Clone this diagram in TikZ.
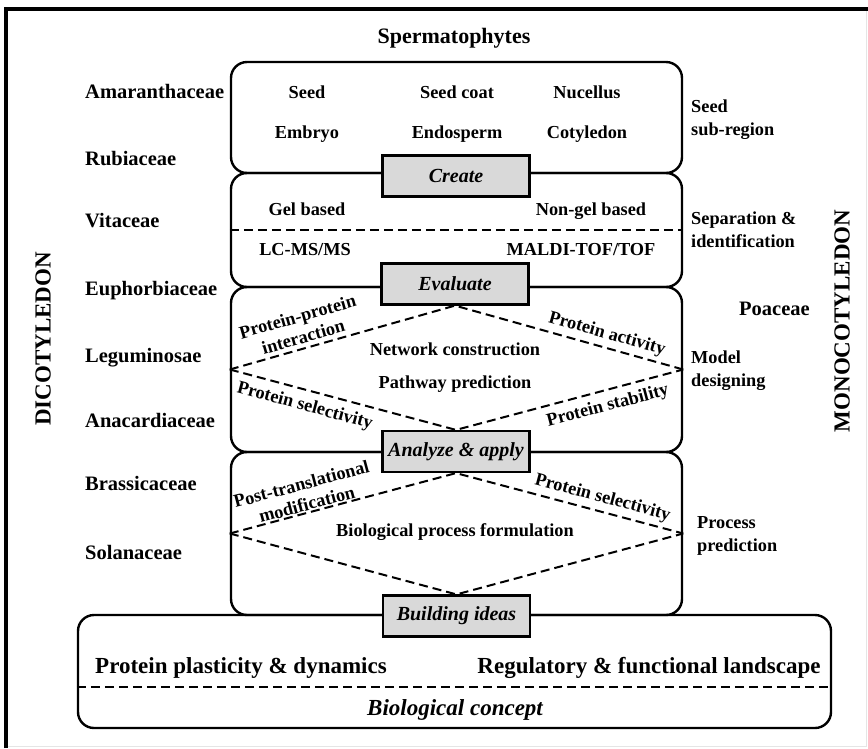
\documentclass[tikz,border=0pt]{standalone}
\usepackage{fontspec}
\setmainfont{Liberation Serif}
\usetikzlibrary{positioning}

\tikzset{
  panel/.style={draw, line width=2.4pt, rounded corners=16pt, minimum width=451pt},
  tag/.style={draw, fill=black!15, line width=2.2pt, minimum width=147pt,
    minimum height=41pt, inner sep=0pt, font=\fontsize{20}{24}\selectfont\bfseries\itshape},
  family/.style={anchor=west, inner sep=0pt, text height=0.7em, text depth=0.2em,
    font=\fontsize{20.5}{24}\selectfont\bfseries},
  item/.style={inner sep=0pt, text height=0.7em, text depth=0.2em,
    font=\fontsize{18.3}{23}\selectfont\bfseries},
  sidetext/.style={anchor=west, align=left, inner sep=0pt,
    font=\fontsize{18.3}{23}\selectfont\bfseries},
  edgetext/.style={sloped, align=center, inner sep=4pt,
    font=\fontsize{18.3}{21}\selectfont\bfseries},
  link/.style={line width=2pt, dash pattern=on 9pt off 5pt},
  bigtext/.style={font=\fontsize{23}{26}\selectfont\bfseries},
}

\begin{document}
\begin{tikzpicture}[x=1pt, y=-1pt]
	\useasboundingbox (0,0) rectangle (868,748);
	% frame
	\draw[line width=4pt] (6,748) -- (6,9) -- (868,9);
	\draw[black!10, line width=1pt] (866.5,11) -- (866.5,746.5) -- (8,746.5);

	\node[font=\fontsize{22}{26}\selectfont\bfseries] (title) at (454,38) {Spermatophytes};

	% stacked panels
	\node[panel, minimum height=111pt] (seedbox) at (456.5,117.5) {};
	\node[panel, minimum height=114pt] (sepbox) at (456.5,230) {};
	\node[panel, minimum height=165pt] (modelbox) at (456.5,369.5) {};
	\node[panel, minimum height=163pt] (procbox) at (456.5,533.5) {};
	\node[panel, minimum width=753pt, minimum height=113pt] (conceptbox) at (454.5,671.5) {};

	\node[tag] (create) at (456,176) {Create};
	\node[tag] (evaluate) at (455,284) {Evaluate};
	\node[tag] (analyze) at (456,451.5) {Analyze \& apply};
	\node[tag] (building) at (456.5,616) {Building ideas};

	\foreach \txt/\x/\y [count=\i] in {Seed/307/96, Seed coat/457/96, Nucellus/587/96,
			Embryo/307/136, Endosperm/457/136, Cotyledon/587/136,
			Gel based/307/213, Non-gel based/591/213,
			{LC-MS/MS}/305/253, {MALDI-TOF/TOF}/581/253} {
			\node[item] (item\i) at (\x,\y) {\txt};
		}

	\draw[link] (sepbox.west) -- (sepbox.east);

	% model designing
	\draw[link] (modelbox.west)
		-- node[edgetext, above, pos=0.34] {Protein-protein\\interaction} (evaluate.south)
		-- node[edgetext, above, pos=0.65] {Protein activity} (modelbox.east);
	\draw[link] (modelbox.west)
		-- node[edgetext, below, pos=0.35, inner sep=7pt] {Protein selectivity} (analyze.north)
		-- node[edgetext, below, pos=0.65, inner sep=7pt] {Protein stability} (modelbox.east);
	\node[item] (network) at (455,353) {Network construction};
	\node[item] (pathway) at (455,386) {Pathway prediction};

	% process prediction
	\draw[link] (procbox.west)
		-- node[edgetext, above, pos=0.35, inner sep=1pt] {Post-translational\\modification} (analyze.south)
		-- node[edgetext, above, pos=0.63] {Protein selectivity} (procbox.east);
	\draw[link] (procbox.west) -- (building.north) -- (procbox.east);
	\node[item] (formulation) at (455,534) {Biological process formulation};

	% biological concept
	\coordinate (cut) at (0,687);
	\draw[link] (conceptbox.west |- cut) -- (conceptbox.east |- cut);
	\node[bigtext] (plastic) at (241,668) {Protein plasticity \& dynamics};
	\node[bigtext] (landscape) at (649,668) {Regulatory \& functional landscape};
	\node[bigtext, font=\fontsize{23}{26}\selectfont\bfseries\itshape] (concept) at (455,710) {Biological concept};

	% families
	\foreach \fam/\y in {Amaranthaceae/96, Rubiaceae/163, Vitaceae/225, Euphorbiaceae/293,
			Leguminosae/360, Anacardiaceae/425, Brassicaceae/488, Solanaceae/557} {
			\node[family] (\fam) at (85,\y) {\fam};
		}
	\node[family] (poaceae) at (739,313) {Poaceae};

	\node[sidetext] (seedreg) at (691,120) {Seed\\sub-region};
	\node[sidetext] (sepid) at (691,230) {Separation \&\\identification};
	\node[sidetext] (design) at (691,371) {Model\\designing};
	\node[sidetext] (predict) at (697,536) {Process\\prediction};

	\node[bigtext, rotate=90] (dicot) at (43,339) {DICOTYLEDON};
	\node[bigtext, rotate=90] (monocot) at (842,321) {MONOCOTYLEDON};
\end{tikzpicture}
\end{document}
